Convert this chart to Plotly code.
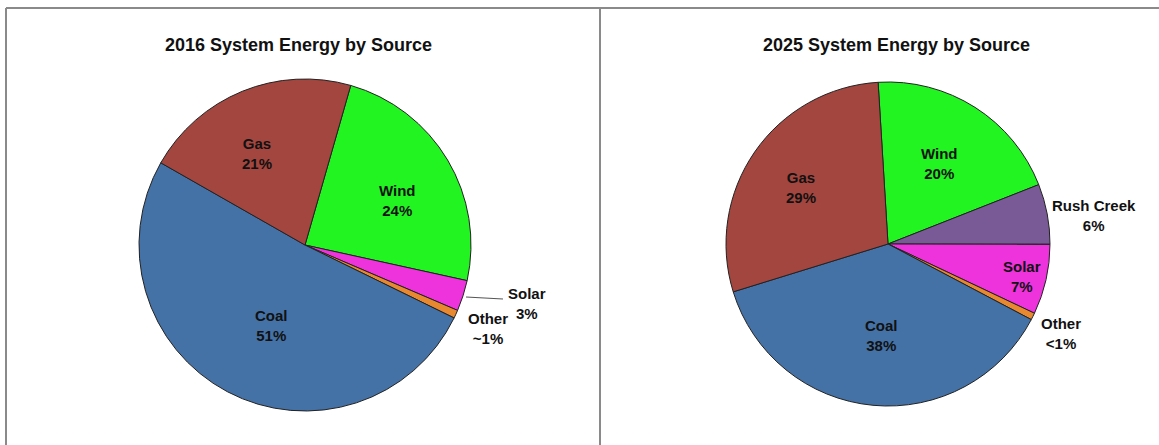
import plotly.graph_objects as go

W, H = 1159, 445

# ---- data ----
labels_2016 = ["Wind", "Solar", "Other", "Coal", "Gas"]
values_2016 = [24, 3, 0.8, 51, 21.2]
text_2016 = ["24%", "3%", "~1%", "51%", "21%"]

labels_2025 = ["Wind", "Rush Creek", "Solar", "Other", "Coal", "Gas"]
values_2025 = [20, 6, 7, 0.7, 37.5, 28.8]
text_2025 = ["20%", "6%", "7%", "<1%", "38%", "29%"]

colors = {
    "Wind": "#22F422",
    "Solar": "#EE33DD",
    "Other": "#E8892F",
    "Coal": "#4472A6",
    "Gas": "#A3463F",
    "Rush Creek": "#7A5A96",
}

def px(x):
    return x / W

def py(y):
    return 1 - y / H

fig = go.Figure()

fig.add_trace(go.Pie(
    labels=labels_2016, values=values_2016, sort=False, direction="clockwise",
    rotation=16, textinfo="none", hole=0,
    marker=dict(colors=[colors[l] for l in labels_2016], line=dict(color="#222222", width=1)),
    domain=dict(x=[px(305 - 166), px(305 + 166)], y=[py(245 + 166), py(245 - 166)]),
    showlegend=False,
))
fig.add_trace(go.Pie(
    labels=labels_2025, values=values_2025, sort=False, direction="clockwise",
    rotation=356.5, textinfo="none", hole=0,
    marker=dict(colors=[colors[l] for l in labels_2025], line=dict(color="#222222", width=1)),
    domain=dict(x=[px(888 - 162), px(888 + 162)], y=[py(244 + 162), py(244 - 162)]),
    showlegend=False,
))

font_lbl = dict(family="Liberation Sans, Arial, sans-serif", size=15, color="#111111")
font_title = dict(family="Liberation Sans, Arial, sans-serif", size=18, color="#111111")

ann = []
ann.append(dict(x=px(298), y=py(45), text="<b>2016 System Energy by Source</b>", font=font_title))
ann.append(dict(x=px(896), y=py(45), text="<b>2025 System Energy by Source</b>", font=font_title))

pos_2016 = {"Gas": (257, 153), "Wind": (397, 200), "Coal": (271, 325),
            "Solar": (527, 303), "Other": (488, 328)}
for l, t in zip(labels_2016, text_2016):
    x, y = pos_2016[l]
    ann.append(dict(x=px(x), y=py(y), text=f"<b>{l}<br>{t}</b>", font=font_lbl))

pos_2025 = {"Gas": (801, 188), "Wind": (939, 163), "Rush Creek": (1094, 216),
            "Solar": (1022, 276), "Other": (1061, 333), "Coal": (881, 335)}
for l, t in zip(labels_2025, text_2025):
    x, y = pos_2025[l]
    ann.append(dict(x=px(x), y=py(y), text=f"<b>{l}<br>{t}</b>", font=font_lbl))

for a in ann:
    a.update(xref="paper", yref="paper", showarrow=False, xanchor="center", yanchor="middle",
             align="center")

shapes = [
    dict(type="line", xref="paper", yref="paper", x0=px(6), x1=1, y0=py(8), y1=py(8),
         line=dict(color="#8a8a8a", width=2)),
    dict(type="line", xref="paper", yref="paper", x0=px(6), x1=px(6), y0=py(8), y1=0,
         line=dict(color="#8a8a8a", width=2)),
    dict(type="line", xref="paper", yref="paper", x0=px(600), x1=px(600), y0=py(8), y1=0,
         line=dict(color="#8a8a8a", width=2)),
    # leader line for Solar (2016)
    dict(type="line", xref="paper", yref="paper", x0=px(466), x1=px(503), y0=py(297), y1=py(299),
         line=dict(color="#555555", width=1.2)),
]

fig.update_layout(
    width=W, height=H, margin=dict(l=0, r=0, t=0, b=0),
    paper_bgcolor="white", plot_bgcolor="white",
    annotations=ann, shapes=shapes,
)

fig.write_html("out.html")
